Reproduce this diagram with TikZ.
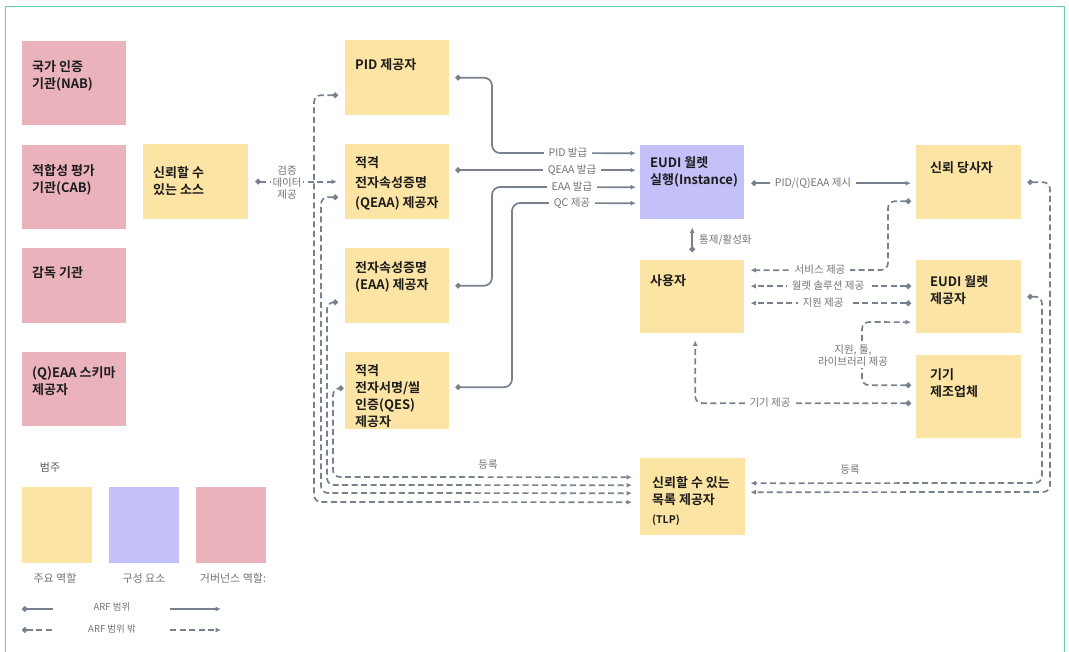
\documentclass[tikz,border=0pt]{standalone}
\usepackage{fontspec}
\setmainfont{Noto Sans CJK KR}[BoldFont={Noto Sans CJK KR Bold}]
\usetikzlibrary{arrows.meta,calc}
\definecolor{ycol}{HTML}{FCE4A4}
\definecolor{pcol}{HTML}{C4C0FA}
\definecolor{rcol}{HTML}{EAB3BC}
\definecolor{lnc}{HTML}{78828F}
\definecolor{lbc}{HTML}{737373}
\definecolor{frm}{HTML}{66CDB5}
\definecolor{txc}{HTML}{1C1C1C}
\tikzset{
  btxt/.style={font=\bfseries\fontsize{13}{17}\selectfont, text=txc, align=left, inner sep=0pt},
  elab/.style={font=\fontsize{10.5}{12}\selectfont, text=lbc, fill=white, inner xsep=5pt, inner ysep=1pt, align=center},
  plab/.style={font=\fontsize{10.5}{12}\selectfont, text=lbc, inner sep=1pt, align=center},
  sol/.style={draw=lnc, line width=1.7pt, rounded corners=8pt, arrows={Circle[length=5.5pt]-Latex[length=5.5pt,width=5pt]}},
  dsh/.style={draw=lnc, line width=1.7pt, dash pattern=on 6pt off 3.5pt, rounded corners=7pt, arrows={Circle[length=5.5pt]-Latex[length=5.5pt,width=5pt]}},
}
% name, x1, y1, x2, y2, colour, (dx,first-baseline offset), text
\newcommand\mkbox[8]{%
  \node[fill=#6, inner sep=0pt, minimum width={(#4-#2)*1pt}, minimum height={(#5-#3)*1pt}, anchor=north west] (#1) at (#2,#3) {};
  \node[btxt, anchor=north west] (#1-t) at ($(#1.north west)+(#7)+(0,-13)$) {\rule{0pt}{13pt}#8};
}
\begin{document}
\begin{tikzpicture}[x=1pt,y=-1pt]
\useasboundingbox (0,0) rectangle (1069,652);
\draw[frm, line width=1pt] (5,660) -- (5,7) -- (1064,7) -- (1064,660);

% governance roles
\mkbox{nab}{22}{41}{126}{125}{rcol}{10,30}{국가 인증\\기관(NAB)}
\mkbox{cab}{22}{145}{126}{229}{rcol}{10,30}{적합성 평가\\기관(CAB)}
\mkbox{sup}{22}{248}{126}{323}{rcol}{10,29}{감독 기관}
\mkbox{sch}{22}{352}{126}{426}{rcol}{10,25}{(Q)EAA 스키마\\제공자}
% main roles
\mkbox{src}{143}{144}{248}{219}{ycol}{10,33}{신뢰할 수\\있는 소스}
\mkbox{pid}{345}{40}{449}{115}{ycol}{10,29}{PID 제공자}
\mkbox{qeaa}{345}{144}{449}{219}{ycol}{10,23}{적격\\[3pt]전자속성증명\\[3pt](QEAA) 제공자}
\mkbox{eaa}{345}{248}{449}{323}{ycol}{10,24}{전자속성증명\\(EAA) 제공자}
\mkbox{qes}{345}{352}{449}{429}{ycol}{10,23}{적격\\전자서명/씰\\인증(QES)\\제공자}
\mkbox{inst}{640}{145}{744}{219}{pcol}{10,22}{EUDI 월렛\\실행(Instance)}
\mkbox{user}{640}{260}{744}{333}{ycol}{10,25}{사용자}
\mkbox{tlp}{640}{458}{745}{535}{ycol}{12,29}{신뢰할 수 있는\\목록 제공자\\[2pt]{\fontsize{10.5}{12}\selectfont (TLP)}}
\mkbox{rp}{916}{145}{1021}{219}{ycol}{14,27}{신뢰 당사자}
\mkbox{wp}{916}{260}{1021}{333}{ycol}{14,26}{EUDI 월렛\\제공자}
\mkbox{dev}{916}{355}{1021}{438}{ycol}{14,24}{기기\\제조업체}

% ARF scope (solid)
\draw[sol] ($(pid.east)+(6,0)$) -| (492,153) -- ($(inst.west)+(-4,-29)$);
\draw[sol] ($(qeaa.east)+(6,-11.5)$) -- ($(inst.west)+(-4,-12)$);
\draw[sol] ($(eaa.east)+(6,0)$) -| (492,187) -- ($(inst.west)+(-4,5)$);
\draw[sol] ($(qes.east)+(6,-3.5)$) -| (512,203) -- ($(inst.west)+(-4,21)$);
\node[elab] (l-pid) at (568,153) {PID 발급};
\node[elab] (l-qeaa) at (572,170) {QEAA 발급};
\node[elab] (l-eaa) at (572,187) {EAA 발급};
\node[elab] (l-qc) at (572,203) {QC 제공};
\draw[sol] ($(inst.east)+(7,1)$) -- ($(rp.west)+(-5,1)$);
\node[elab] (l-pres) at (813,183) {PID/(Q)EAA 제시};
\draw[sol] ($(user.north)+(0,-8)$) -- ($(inst.south)+(0,8)$);
\node[plab, anchor=west] (l-ctl) at (698,240) {통제/활성화};

% outside ARF scope (dashed)
\draw[dsh] ($(rp.west)+(-5,19)$) -| (888,270) -- ($(user.east)+(6,-26.5)$);
\node[elab] (l-svc) at (820,270) {서비스 제공};
\draw[dsh] ($(wp.west)+(-5,-10.5)$) -- ($(user.east)+(6,-10.5)$);
\node[elab] (l-sol) at (828,286) {월렛 솔루션 제공};
\draw[dsh] ($(wp.west)+(-5,6.5)$) -- ($(user.east)+(6,6.5)$);
\node[elab] (l-sup) at (823,303) {지원 제공};
\draw[dsh] ($(dev.west)+(-5,-11.5)$) -| (862,322) -- ($(wp.west)+(-5,25.5)$);
\node[elab] (l-tool) at (853,356) {지원, 툴,\\라이브러리 제공};
\draw[dsh] ($(dev.west)+(-5,6.5)$) -| ($(user.south)+(3,7)$);
\node[elab] (l-dev) at (770,403) {기기 제공};

% registration bundle (left)
\draw[dsh] ($(pid.west)+(-7,17.5)$) -| (314,502) -- ($(tlp.west)+(-8,5.5)$);
\draw[dsh] ($(qeaa.west)+(-7,15.5)$) -| (321,493) -- ($(tlp.west)+(-8,-3.5)$);
\draw[dsh] ($(eaa.west)+(-7,16.5)$) -| (327,485) -- ($(tlp.west)+(-8,-11.5)$);
\draw[dsh] ($(qes.west)+(-7,-2.5)$) -| (333,477) -- ($(tlp.west)+(-8,-19.5)$);
\node[plab] (l-reg1) at (488,465) {등록};
% verification data
\draw[dsh] ($(src.east)+(7,0)$) -- ($(qeaa.west)+(-8,0)$);
\node[elab, inner xsep=2pt] (l-ver) at (287,183) {검증\\데이터\\제공};

% registration (right)
\draw[dsh] ($(rp.east)+(6,0)$) -| (1050,492) -- ($(tlp.east)+(5,-4.5)$);
\draw[dsh] ($(wp.east)+(6,0)$) -| (1042,483) -- ($(tlp.east)+(5,-13.5)$);
\node[plab] (l-reg2) at (850,470) {등록};

% legend
\node[font=\fontsize{11}{13}\selectfont, text=black!65, inner sep=0pt] (lg-title) at (50,467) {범주};
\node[fill=ycol, minimum width=70pt, minimum height=76pt, inner sep=0pt, anchor=north west] (lg-y) at (22,487) {};
\node[fill=pcol, minimum width=70pt, minimum height=76pt, inner sep=0pt, anchor=north west] (lg-p) at (109,487) {};
\node[fill=rcol, minimum width=70pt, minimum height=76pt, inner sep=0pt, anchor=north west] (lg-r) at (196,487) {};
\node[plab, font=\fontsize{11}{12}\selectfont] (lg-yt) at (55,578) {주요 역할};
\node[plab, font=\fontsize{11}{12}\selectfont] (lg-pt) at (144,578) {구성 요소};
\node[plab, font=\fontsize{11}{12}\selectfont] (lg-rt) at (233,578) {거버넌스 역할:};
\coordinate (ls1a) at (22,609); \coordinate (ls1b) at (53,609);
\coordinate (ls2a) at (170,609); \coordinate (ls2b) at (221,609);
\coordinate (ld1a) at (22,630); \coordinate (ld1b) at (53,630);
\coordinate (ld2a) at (170,630); \coordinate (ld2b) at (221,630);
\draw[draw=lnc, line width=1.7pt, arrows={Circle[length=5.5pt]-}] (ls1a) -- (ls1b);
\draw[draw=lnc, line width=1.7pt, arrows={-Latex[length=5.5pt,width=5pt]}] (ls2a) -- (ls2b);
\draw[draw=lnc, line width=1.7pt, dash pattern=on 6pt off 3.5pt, arrows={Circle[length=5.5pt]-}] (ld1a) -- (ld1b);
\draw[draw=lnc, line width=1.7pt, dash pattern=on 6pt off 3.5pt, arrows={-Latex[length=5.5pt,width=5pt]}] (ld2a) -- (ld2b);
\node[plab, font=\fontsize{9.5}{11}\selectfont] (lg-s) at (112,607) {ARF 범위};
\node[plab, font=\fontsize{9.5}{11}\selectfont] (lg-d) at (112,629) {ARF 범위 밖};
\end{tikzpicture}
\end{document}
